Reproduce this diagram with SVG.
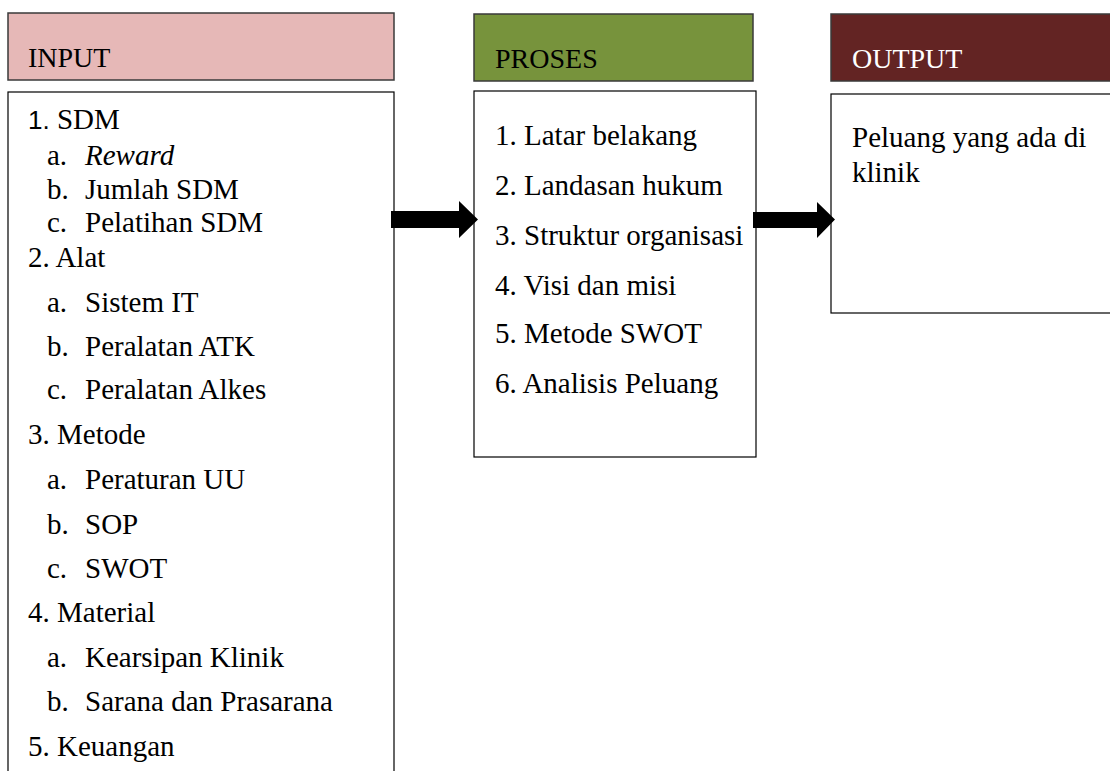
<svg xmlns="http://www.w3.org/2000/svg" width="1110" height="771" viewBox="0 0 1110 771">
<style>
.hdr{stroke:#3a3a3a;stroke-width:1.5}
.box{fill:#ffffff;stroke:#000000;stroke-width:1.2}
.t{font-family:"Liberation Serif","Times New Roman",serif;font-size:29px;fill:#000}
.h{font-size:28px}
.w{fill:#ffffff}
.arrow{fill:#000000}
</style>
<rect width="1110" height="771" fill="#ffffff"/>
<g id="input-header">
<rect class="hdr" x="8" y="13" width="386" height="67" fill="#E6B8B7"/>
<text class="t h" x="28" y="67">INPUT</text>
</g>
<g id="input-body">
<rect class="box" x="8" y="92" width="386" height="700"/>
<text class="t" x="28" y="129"><tspan font-family="Liberation Sans, Arial, sans-serif" font-size="26">1.</tspan> SDM</text>
<text class="t" x="47" y="165">a.</text><text class="t" x="85" y="165" font-style="italic">Reward</text>
<text class="t" x="47" y="199">b.</text><text class="t" x="85" y="199">Jumlah SDM</text>
<text class="t" x="47" y="232">c.</text><text class="t" x="85" y="232">Pelatihan SDM</text>
<text class="t" x="28" y="267">2. Alat</text>
<text class="t" x="47" y="312">a.</text><text class="t" x="85" y="312">Sistem IT</text>
<text class="t" x="47" y="356">b.</text><text class="t" x="85" y="356">Peralatan ATK</text>
<text class="t" x="47" y="399">c.</text><text class="t" x="85" y="399">Peralatan Alkes</text>
<text class="t" x="28" y="444">3. Metode</text>
<text class="t" x="47" y="489">a.</text><text class="t" x="85" y="489">Peraturan UU</text>
<text class="t" x="47" y="534">b.</text><text class="t" x="85" y="534">SOP</text>
<text class="t" x="47" y="578">c.</text><text class="t" x="85" y="578">SWOT</text>
<text class="t" x="28" y="622">4. Material</text>
<text class="t" x="47" y="667">a.</text><text class="t" x="85" y="667">Kearsipan Klinik</text>
<text class="t" x="47" y="711">b.</text><text class="t" x="85" y="711">Sarana dan Prasarana</text>
<text class="t" x="28" y="756">5. Keuangan</text>
</g>
<g id="proses-header">
<rect class="hdr" x="474" y="14" width="279" height="67" fill="#77933C"/>
<text class="t h" x="495" y="68">PROSES</text>
</g>
<g id="proses-body">
<rect class="box" x="474" y="91" width="282" height="366"/>
<text class="t" x="495" y="145">1. Latar belakang</text>
<text class="t" x="495" y="195">2. Landasan hukum</text>
<text class="t" x="495" y="245">3. Struktur organisasi</text>
<text class="t" x="495" y="295">4. Visi dan misi</text>
<text class="t" x="495" y="343">5. Metode SWOT</text>
<text class="t" x="495" y="393">6. Analisis Peluang</text>
</g>
<g id="output-header">
<rect class="hdr" x="831" y="14" width="300" height="67" fill="#632423"/>
<text class="t h w" x="852" y="68">OUTPUT</text>
</g>
<g id="output-body">
<rect class="box" x="831" y="94" width="300" height="219"/>
<text class="t" x="852" y="147">Peluang yang ada di</text>
<text class="t" x="852" y="182">klinik</text>
</g>
<g id="connectors">
<polygon class="arrow" points="391,211 459,211 459,201 478,219.5 459,238 459,228 391,228"/>
<polygon class="arrow" points="753,212 817,212 817,202 835,219.5 817,238 817,228 753,228"/>
</g>
</svg>
